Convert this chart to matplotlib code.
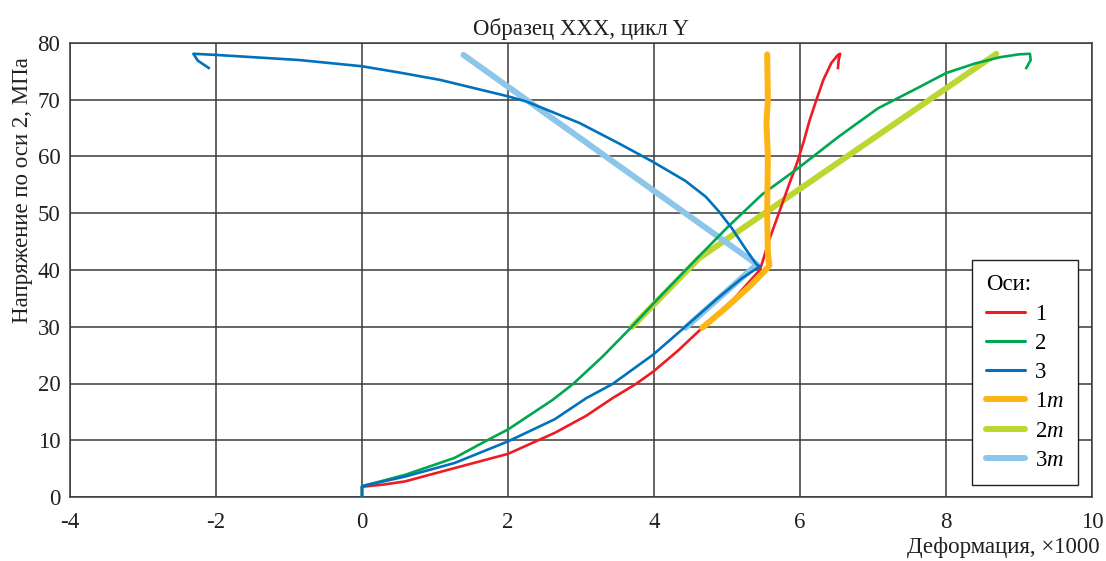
import matplotlib
matplotlib.use("Agg")
import matplotlib.pyplot as plt

plt.rcParams['font.family'] = ['Liberation Serif', 'DejaVu Serif']
plt.rcParams['mathtext.fontset'] = 'custom'
plt.rcParams['mathtext.rm'] = 'Liberation Serif'
plt.rcParams['mathtext.it'] = 'Liberation Serif:italic'

# ---------------- data ----------------
x1 = [0, 0, 0.3, 0.59, 1.27, 2.0, 2.64, 3.07, 3.43, 3.75, 3.99, 4.33, 4.66, 5.1, 5.45,
      5.5, 5.57, 5.71, 5.84, 5.96, 6.05, 6.13, 6.22, 6.32, 6.43, 6.52, 6.55, 6.53, 6.52]
y1 = [0, 1.8, 2.2, 2.75, 5.1, 7.6, 11.3, 14.3, 17.4, 19.9, 22.1, 25.8, 29.8, 35.0, 40.0,
      42.0, 45.0, 50.0, 54.7, 58.9, 62.6, 66.3, 69.8, 73.5, 76.5, 77.9, 78.1, 77.0, 75.6]

x2 = [0, 0, 0.59, 1.27, 1.73, 2.0, 2.61, 2.89, 3.30, 3.68, 4.0, 4.21, 4.57, 5.02,
      5.48, 5.98, 6.53, 7.07, 7.60, 8.0, 8.40, 8.74, 9.0, 9.15, 9.16, 9.10]
y2 = [0, 1.9, 3.9, 6.9, 10.1, 11.9, 17.1, 19.9, 24.8, 29.8, 34.2, 37.0, 41.8, 47.7,
      53.3, 58.0, 63.5, 68.5, 72.0, 74.7, 76.4, 77.5, 78.0, 78.1, 77.0, 75.6]

x3 = [0, 0, 0.59, 1.27, 2.0, 2.64, 3.07, 3.43, 3.99, 4.41, 4.87, 5.2, 5.41, 5.46,
      5.41, 5.37, 5.25, 5.07, 4.89, 4.71, 4.43, 3.98, 3.52, 2.98, 2.25, 2.0, 1.07,
      0.51, 0, -0.86, -2.0, -2.31, -2.25, -2.10]
y3 = [0, 1.9, 3.6, 6.0, 9.8, 13.7, 17.4, 19.9, 25.1, 29.8, 35.0, 38.5, 40.3, 40.6,
      40.9, 41.6, 43.8, 47.3, 50.3, 52.9, 55.7, 59.1, 62.3, 65.9, 69.7, 70.6, 73.5,
      74.8, 75.9, 77.0, 77.9, 78.1, 76.9, 75.6]

x1m = [4.66, 5.0, 5.3, 5.5, 5.58, 5.56, 5.55, 5.56, 5.54, 5.56, 5.55]
y1m = [29.8, 33.5, 37.0, 39.6, 40.8, 43.0, 50.0, 60.0, 66.0, 70.0, 78.0]

x2m = [3.70, 4.62, 8.69]
y2m = [30.0, 42.1, 78.1]

x3m = [4.43, 5.41, 1.39]
y3m = [29.8, 41.0, 77.9]

labels = ['1', '2', '3', '1$\\mathit{m}$', '2$\\mathit{m}$', '3$\\mathit{m}$']
colors = ['#ED1C24', '#00A651', '#0072BC', '#FDB515', '#BED630', '#8DC6E8']

xticks = [-4, -2, 0, 2, 4, 6, 8, 10]
yticks = [0, 10, 20, 30, 40, 50, 60, 70, 80]

# ---------------- figure ----------------
fig = plt.figure(figsize=(11.06, 5.61), dpi=100)
ax = fig.add_axes([70/1106, 1-497/561, 1022/1106, 454/561])

thin = 1.9
thick = 4.3
l2m, = ax.plot(x2m, y2m, color=colors[4], lw=thick, solid_capstyle='round',
               solid_joinstyle='round', zorder=2)
l3m, = ax.plot(x3m, y3m, color=colors[5], lw=thick, solid_capstyle='round',
               solid_joinstyle='round', zorder=2)
l1, = ax.plot(x1, y1, color=colors[0], lw=thin, solid_joinstyle='round', zorder=3)
l2, = ax.plot(x2, y2, color=colors[1], lw=thin, solid_joinstyle='round', zorder=3)
l3, = ax.plot(x3, y3, color=colors[2], lw=thin, solid_joinstyle='round', zorder=3)
l1m, = ax.plot(x1m, y1m, color=colors[3], lw=thick, solid_capstyle='round',
               solid_joinstyle='round', zorder=4)

FS = 16.5
ax.set_xlim(-4, 10)
ax.set_ylim(0, 80)
ax.set_xticks(xticks)
ax.set_yticks(yticks)
ax.set_xticklabels([str(v) for v in xticks])
ax.set_yticklabels([str(v) for v in yticks])
ax.tick_params(length=0, labelsize=FS, colors='#231F20')
ax.tick_params(axis='x', pad=11)
ax.tick_params(axis='y', pad=7)
ax.grid(True, color='#3a3a3a', lw=1.1)
ax.set_axisbelow(True)
for s in ax.spines.values():
    s.set_color('#3a3a3a')
    s.set_linewidth(1.1)

ax.set_title('Образец XXX, цикл Y', fontsize=FS, color='#231F20', pad=6)
ax.set_ylabel('Напряжение по оси 2, МПа', fontsize=FS, color='#231F20')
ax.yaxis.set_label_coords(-0.036, 0.676)
fig.text(1100/1106, 1-548/561, 'Деформация, ×1000', fontsize=FS, color='#231F20',
         ha='right', va='center')

leg = ax.legend([l1, l2, l3, l1m, l2m, l3m], labels, title='Оси:',
                loc='lower right', bbox_to_anchor=(0.986, 0.027),
                fontsize=FS, title_fontsize=FS, alignment='left',
                frameon=True, fancybox=False, framealpha=1, edgecolor='#231F20',
                handlelength=1.7, handletextpad=0.45, labelspacing=0.36,
                borderpad=0.6, borderaxespad=0)
leg.get_frame().set_linewidth(1.0)
for h, lw in zip(leg.get_lines(), [2.2, 2.2, 2.2, 4.3, 4.3, 4.3]):
    h.set_linewidth(lw)
    h.set_solid_capstyle('round')

fig.savefig('out.png', dpi=100)
